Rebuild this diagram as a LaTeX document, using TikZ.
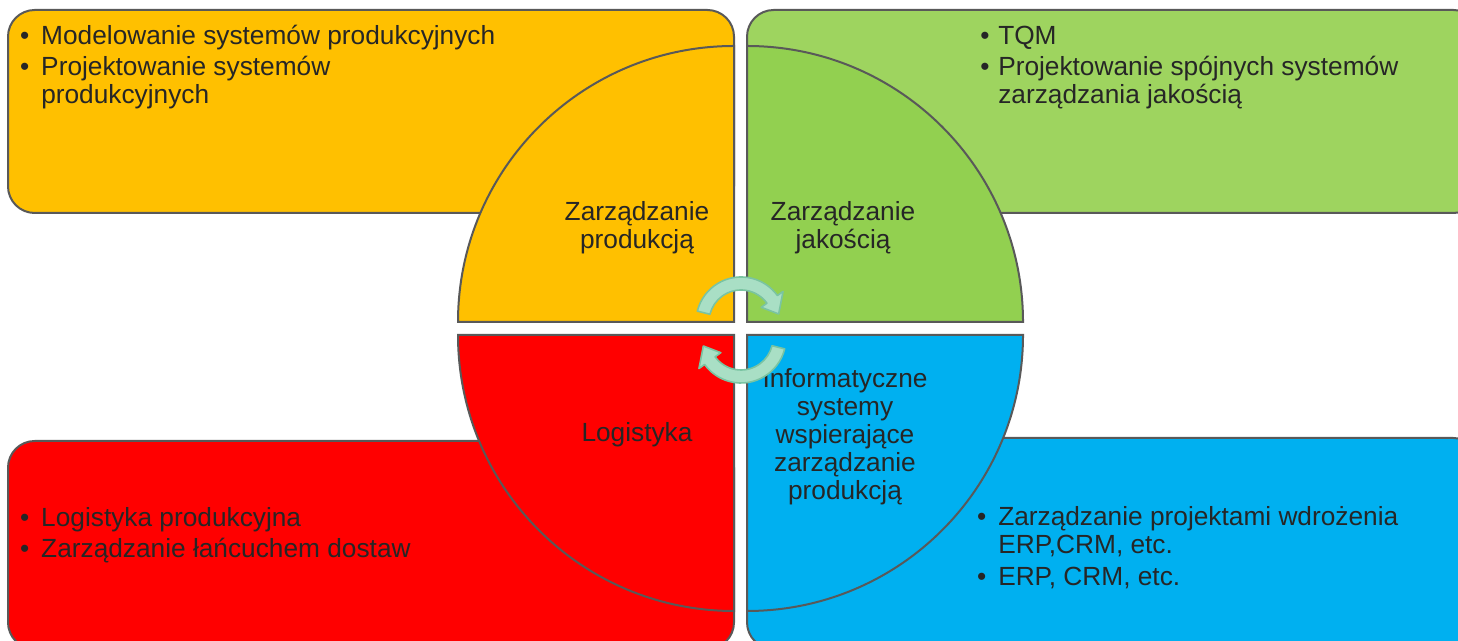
\documentclass[tikz,border=0pt]{standalone}
\usepackage{fontspec}
\setmainfont{Liberation Sans}

\definecolor{prodorange}{HTML}{FFC000}
\definecolor{qualgreen}{HTML}{92D050}
\definecolor{qualgreenlight}{HTML}{9ED45F}
\definecolor{logred}{HTML}{FF0000}
\definecolor{itblue}{HTML}{00B0F0}
\definecolor{edgegray}{HTML}{595959}
\definecolor{textgray}{HTML}{262626}
\definecolor{arrowfill}{HTML}{A9DFC5}
\definecolor{arrowline}{HTML}{7AC4A2}

\newcommand{\itm}[1][9pt]{\leavevmode\llap{\textbullet\hspace{#1}}}

\tikzset{
	box/.style={draw=edgegray, line width=1.5pt, rounded corners=20pt},
	quarter/.style={draw=edgegray, line width=1.5pt},
	txt/.style={text=textgray, inner sep=0pt, font=\fontsize{19.7}{21}\selectfont},
	item/.style={txt, anchor=base west, align=left},
	quadtext/.style={txt, align=center},
	cyclearrow/.style={draw=arrowline, fill=arrowfill, line width=1.2pt, line join=round}
}

\begin{document}
\begin{tikzpicture}[x=0.75pt, y=0.75pt]
		\useasboundingbox (0,0) rectangle (1458,641);
		\clip (0,0) rectangle (1458,641);
		
		% Draw the outer boxes
		\draw[box, fill=prodorange] (8,428) rectangle (734,631);
		\draw[box, fill=qualgreenlight] (747,428) rectangle (1480,631);
		\draw[box, fill=logred] (8,-8) rectangle (734,200);
		\draw[box, fill=itblue] (747,-8) rectangle (1480,203);
		
		% Draw the quarter circles
		\draw[quarter, fill=prodorange] (734,319) -- (458,319) arc[start angle=180, end angle=90, radius=276] -- cycle;
		\draw[quarter, fill=qualgreen] (747,319) -- (747,595) arc[start angle=90, end angle=0, radius=276] -- cycle;
		\draw[quarter, fill=logred] (734,306) -- (458,306) arc[start angle=180, end angle=270, radius=276] -- cycle;
		\draw[quarter, fill=itblue] (747,306) -- (1023,306) arc[start angle=0, end angle=-90, radius=276] -- cycle;
		
		% Draw the bullet lists (multi-line nodes sit on their last line)
		\node[item] (prodA) at (41,596) {\itm Modelowanie systemów produkcyjnych};
		\node[item] (prodB) at (41,537) {\itm Projektowanie systemów\\produkcyjnych};
		\node[item] (qualA) at (998,596) {\itm[6.5pt]TQM};
		\node[item] (qualB) at (998,537) {\itm[6.5pt]Projektowanie spójnych systemów\\zarządzania jakością};
		\node[item] (logA) at (41,114) {\itm Logistyka produkcyjna};
		\node[item] (logB) at (41,83) {\itm Zarządzanie łańcuchem dostaw};
		\node[item] (itA) at (998,87) {\itm Zarządzanie projektami wdrożenia\\ERP,CRM, etc.};
		\node[item] (itB) at (998,55) {\itm ERP, CRM, etc.};
		
		% Draw the quarter labels
		\node[quadtext] (prodLbl) at (637,413) {Zarządzanie\\produkcją};
		\node[quadtext] (qualLbl) at (843,413) {Zarządzanie\\jakością};
		\node[quadtext] (logLbl) at (637,206) {Logistyka};
		\node[quadtext] (itLbl) at (845,204) {Informatyczne\\systemy\\wspierające\\zarządzanie\\produkcją};
		
		% Draw the circular arrows
		\foreach \cy/\rot in {319/0, 303/180}{
			\draw[cyclearrow, shift={(741,\cy)}, rotate=\rot]
				(166:45) arc[start angle=166, end angle=36, radius=45]
				-- (36:52) -- (12:38.5) -- (36:25) -- (36:32)
				arc[start angle=36, end angle=166, radius=32] -- cycle;
		}
		
	\end{tikzpicture}
\end{document}
